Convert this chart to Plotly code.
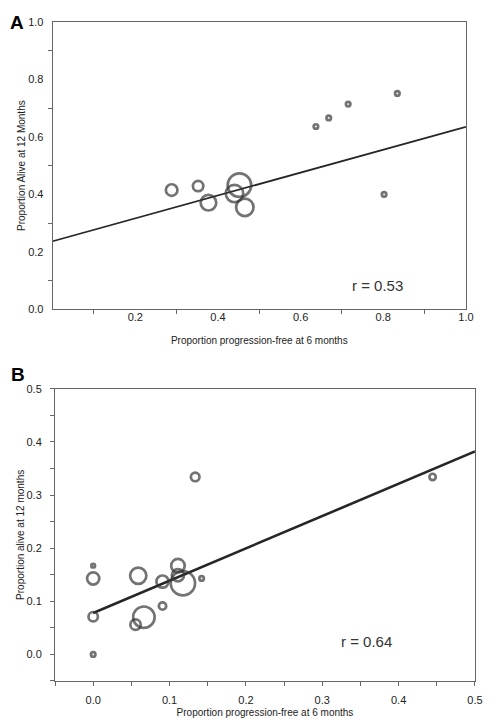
import plotly.graph_objects as go
import math

# ---------------- Data ----------------
# Panel A
A_pfs6 = [0.288, 0.352, 0.377, 0.440, 0.452, 0.465, 0.637, 0.668, 0.715, 0.834, 0.802]
A_os12 = [0.415, 0.429, 0.371, 0.403, 0.432, 0.355, 0.636, 0.666, 0.714, 0.751, 0.400]
A_n = [20, 16, 36, 45, 82, 45, 3, 3, 3, 3, 3]
A_fit_x = [0.0, 1.0]
A_fit_y = [0.237, 0.635]
A_r = "r = 0.53"

# Panel B
B_pfs6 = [0.0, 0.0, 0.0, 0.0, 0.059, 0.0555, 0.0664, 0.0908, 0.0908, 0.111, 0.111, 0.1175, 0.142, 0.1336, 0.4445]
B_os12 = [0.167, 0.143, 0.071, 0.0, 0.148, 0.056, 0.070, 0.091, 0.137, 0.167, 0.149, 0.134, 0.143, 0.334, 0.334]
B_n = [2, 22, 13, 3, 39, 16, 68, 8, 22, 27, 22, 87, 3, 11, 6]
B_fit_x = [0.0, 0.5]
B_fit_y = [0.078, 0.382]
B_r = "r = 0.64"

# Tick labels
A_x_labels = ["0.2", "0.4", "0.6", "0.8", "1.0"]
A_y_labels = ["0.0", "0.2", "0.4", "0.6", "0.8", "1.0"]
B_x_labels = ["0.0", "0.1", "0.2", "0.3", "0.4", "0.5"]
B_y_labels = ["0.0", "0.1", "0.2", "0.3", "0.4", "0.5"]

FONT = "Liberation Sans, Arial, sans-serif"
MARK = "#383838"
LINE = "#262626"

def sz(ns):
    return [2.6 * math.sqrt(n) for n in ns]

fig = go.Figure()

fig.add_trace(go.Scatter(x=A_fit_x, y=A_fit_y, mode="lines",
                         line=dict(color=LINE, width=1.8), xaxis="x", yaxis="y",
                         showlegend=False, hoverinfo="skip"))
fig.add_trace(go.Scatter(x=A_pfs6, y=A_os12, mode="markers",
                         marker=dict(symbol="circle-open", size=sz(A_n), color=MARK,
                                     line=dict(width=2.7, color=MARK)),
                         xaxis="x", yaxis="y", showlegend=False))

fig.add_trace(go.Scatter(x=B_fit_x, y=B_fit_y, mode="lines",
                         line=dict(color=LINE, width=2.6), xaxis="x2", yaxis="y2",
                         showlegend=False, hoverinfo="skip"))
fig.add_trace(go.Scatter(x=B_pfs6, y=B_os12, mode="markers",
                         marker=dict(symbol="circle-open", size=sz(B_n), color=MARK,
                                     line=dict(width=2.7, color=MARK)),
                         xaxis="x2", yaxis="y2", showlegend=False))

tickfont = dict(family=FONT, size=11, color="#222")
titlefont = dict(family=FONT, size=10, color="#222")

def vals(labels):
    return [float(t) for t in labels]

axis_common = dict(showline=True, linecolor="#666", linewidth=1, mirror=True,
                   showgrid=False, zeroline=False, tickfont=tickfont,
                   ticks="outside", ticklen=0, tickcolor="#666", automargin=False)

fig.update_layout(
    width=492, height=728,
    margin=dict(l=0, r=0, t=0, b=0),
    paper_bgcolor="white", plot_bgcolor="white",
    font=dict(family=FONT),
    xaxis=dict(domain=[0.107, 0.947], anchor="y", range=[0, 1.0],
               tickmode="array", tickvals=vals(A_x_labels), ticktext=A_x_labels,
               ticklabelstandoff=-3,
               minor=dict(tickvals=[0.1, 0.3, 0.5, 0.7, 0.9], ticks="outside",
                          ticklen=4, tickcolor="#666"),
               title=dict(text="Proportion progression-free at 6 months", font=titlefont, standoff=15),
               **axis_common),
    yaxis=dict(domain=[0.575, 0.970], anchor="x", range=[0, 1.0],
               tickmode="array", tickvals=vals(A_y_labels), ticktext=A_y_labels,
               ticklabelstandoff=6,
               minor=dict(tickvals=[0.1, 0.3, 0.5, 0.7, 0.9], ticks="outside",
                          ticklen=4, tickcolor="#666"),
               title=dict(text="Proportion Alive at 12 Months", font=titlefont, standoff=0),
               **axis_common),
    xaxis2=dict(domain=[0.1118, 0.9654], anchor="y2", range=[-0.05, 0.5],
                tickmode="array", tickvals=vals(B_x_labels), ticktext=B_x_labels,
                ticklabelstandoff=5,
                minor=dict(tickvals=[-0.05, 0.05, 0.15, 0.25, 0.35, 0.45], ticks="outside",
                           ticklen=4, tickcolor="#666"),
                title=dict(text="Proportion progression-free at 6 months", font=titlefont, standoff=3),
                **{**axis_common, "ticklen": 4}),
    yaxis2=dict(domain=[0.0646, 0.466], anchor="x2", range=[-0.05, 0.5],
                tickmode="array", tickvals=vals(B_y_labels), ticktext=B_y_labels,
                ticklabelstandoff=6,
                minor=dict(tickvals=[-0.05, 0.05, 0.15, 0.25, 0.35, 0.45], ticks="outside",
                           ticklen=4, tickcolor="#666"),
                title=dict(text="Proportion alive at 12 months", font=titlefont, standoff=0),
                **{**axis_common, "ticklen": 4}),
    annotations=[
        dict(text=A_r, x=0.785, y=0.0845, xref="x", yref="y", showarrow=False,
             xanchor="center", yanchor="middle",
             font=dict(family=FONT, size=15, color="#333")),
        dict(text=B_r, x=0.358, y=0.025, xref="x2", yref="y2", showarrow=False,
             xanchor="center", yanchor="middle",
             font=dict(family=FONT, size=15, color="#333")),
        dict(text="<b>A</b>", x=17 / 492, y=1 - 22 / 728, xref="paper", yref="paper",
             xanchor="center", yanchor="middle", showarrow=False,
             font=dict(family=FONT, size=19, color="black")),
        dict(text="<b>B</b>", x=18 / 492, y=1 - 375 / 728, xref="paper", yref="paper",
             xanchor="center", yanchor="middle", showarrow=False,
             font=dict(family=FONT, size=19, color="black")),
    ],
)

fig.write_html("out.html", config={"displayModeBar": False},
               post_script="document.body.style.margin='0';document.body.style.padding='0';")
